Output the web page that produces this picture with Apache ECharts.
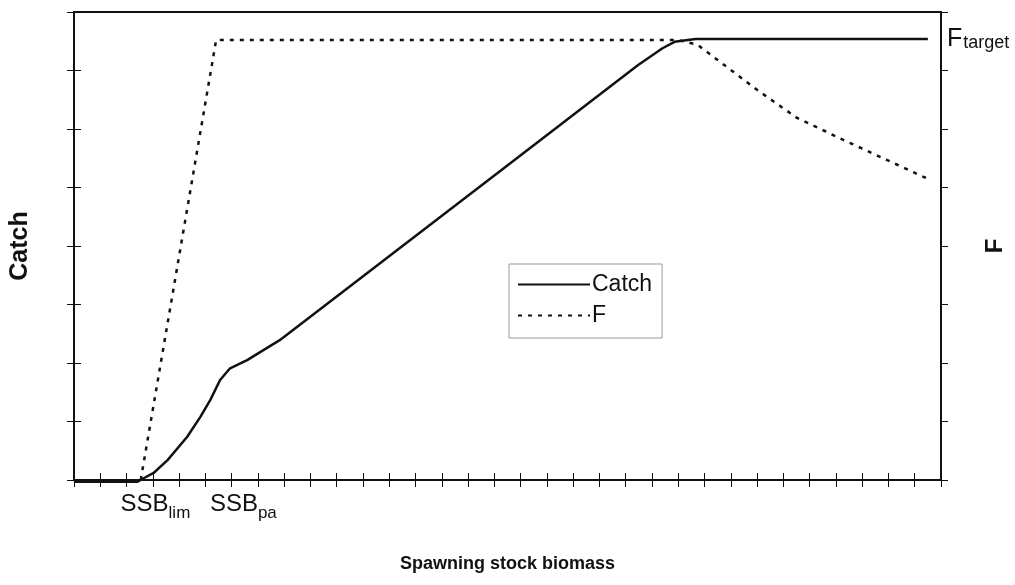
<!DOCTYPE html>
<html>
<head>
<meta charset="utf-8">
<title>Catch and F against spawning stock biomass</title>
<script src="https://cdn.jsdelivr.net/npm/echarts@6/dist/echarts.min.js"></script>
<style>
  html, body { margin: 0; padding: 0; background: #fff; }
  #chart { width: 1015px; height: 585px; }
</style>
</head>
<body>
<div id="chart"></div>
<script>
// values (x in tick units, y in tick units, 0..8)
const catchX = [0, 1, 2, 2.42, 2.65, 3.03, 3.56, 4.31, 4.81, 5.19, 5.56, 5.94, 6.59, 7.83, 16.16, 21.46, 22.4, 22.86, 23.66, 32.5]
const catchY = [-0.03, -0.03, -0.03, -0.03, 0.03, 0.12, 0.34, 0.74, 1.08, 1.37, 1.71, 1.91, 2.05, 2.39, 5.26, 7.09, 7.38, 7.49, 7.54, 7.54]

const fX = [2.54, 5.41, 23.0, 23.73, 26.0, 27.52, 29.3, 32.44]
const fY = [0, 7.52, 7.52, 7.44, 6.67, 6.19, 5.81, 5.16]

// reference points under the x axis (x is where "SSB" meets its subscript)
const refNames = ['lim', 'pa']
const refX = [3.6, 7.0]
const fTarget = 7.52

const font = '"Liberation Sans", Arial, sans-serif'
const black = '#111'

const chart = echarts.init(document.getElementById('chart'), null, { renderer: 'canvas' })

function zip(xs, ys) {
  return xs.map((x, i) => [x, ys[i]])
}

function valueAxis(extra) {
  return Object.assign({
    type: 'value',
    min: 0,
    interval: 1,
    axisLabel: { show: false },
    splitLine: { show: false },
    axisLine: { show: true, onZero: false, lineStyle: { color: black, width: 2 } },
    axisTick: { show: true, length: 7, lineStyle: { color: black, width: 1 } }
  }, extra)
}

// text-only scatter series, used for the labels sitting on the axes
function textSeries(name, yIndex, data, label) {
  return {
    name: name,
    type: 'scatter',
    xAxisIndex: 0,
    yAxisIndex: yIndex,
    symbolSize: 0,
    silent: true,
    clip: false,
    itemStyle: { opacity: 1, color: black },
    data: data,
    label: Object.assign({ show: true, color: black, fontFamily: font }, label)
  }
}

const innerTicks = { show: true, inside: true, length: 7, lineStyle: { color: black, width: 1 } }

chart.setOption({
  animation: false,
  textStyle: { fontFamily: font, color: black },
  grid: { left: 73, right: 70, top: 12, bottom: 105 },
  legend: {
    data: ['Catch', 'F'],
    orient: 'vertical',
    left: 509,
    top: 264,
    padding: [9, 10, 11, 8],
    itemWidth: 72,
    itemHeight: 14,
    itemGap: 8,
    borderColor: '#999',
    borderWidth: 1,
    itemStyle: { opacity: 0 },
    textStyle: { fontFamily: font, fontSize: 23, color: black, padding: [0, 0, 0, -3] }
  },
  xAxis: [
    valueAxis({
      max: 33,
      name: 'Spawning stock biomass',
      nameLocation: 'middle',
      nameGap: 75,
      nameTextStyle: { fontFamily: font, fontSize: 18, fontWeight: 'bold', color: black }
    }),
    valueAxis({ max: 33, position: 'bottom', axisLine: { show: false }, axisTick: innerTicks }),
    valueAxis({ max: 33, position: 'top', axisTick: { show: false } })
  ],
  yAxis: [
    valueAxis({
      max: 8,
      position: 'left',
      name: 'Catch',
      nameLocation: 'middle',
      nameGap: 41,
      nameRotate: 90,
      nameTextStyle: { fontFamily: font, fontSize: 25, fontWeight: 'bold', color: black }
    }),
    valueAxis({
      max: 8,
      position: 'right',
      name: 'F',
      nameLocation: 'middle',
      nameGap: 42,
      nameRotate: 90,
      nameTextStyle: { fontFamily: font, fontSize: 24, fontWeight: 'bold', color: black }
    }),
    valueAxis({ max: 8, position: 'left', axisLine: { show: false }, axisTick: innerTicks }),
    valueAxis({ max: 8, position: 'right', axisLine: { show: false }, axisTick: innerTicks })
  ],
  series: [
    {
      name: 'Catch',
      type: 'line',
      xAxisIndex: 0,
      yAxisIndex: 0,
      data: zip(catchX, catchY),
      showSymbol: false,
      symbol: 'none',
      smooth: false,
      clip: false,
      lineStyle: { color: black, width: 2.5 },
      itemStyle: { color: black }
    },
    {
      name: 'F',
      type: 'line',
      xAxisIndex: 0,
      yAxisIndex: 1,
      data: zip(fX, fY),
      showSymbol: false,
      symbol: 'none',
      clip: false,
      lineStyle: { color: black, width: 2.5, type: [4, 6] },
      itemStyle: { color: black }
    },
    textSeries('ssb', 0, refX.map(x => [x, 0]), {
      position: 'bottom',
      distance: 12,
      align: 'right',
      fontSize: 24,
      formatter: 'SSB'
    }),
    textSeries('ssbSub', 0, refX.map((x, i) => ({ value: [x, 0], sub: refNames[i] })), {
      position: 'bottom',
      distance: 25,
      align: 'left',
      fontSize: 17,
      formatter: p => p.data.sub
    }),
    textSeries('target', 1, [[33, fTarget]], {
      position: 'right',
      distance: 6,
      offset: [0, -1],
      formatter: '{a|F}{b|target}',
      rich: {
        a: { fontFamily: font, fontSize: 25, lineHeight: 25, verticalAlign: 'top', color: black },
        b: { fontFamily: font, fontSize: 18, lineHeight: 18, verticalAlign: 'bottom', padding: [12, 0, 0, 1], color: black }
      }
    })
  ]
})
</script>
</body>
</html>
